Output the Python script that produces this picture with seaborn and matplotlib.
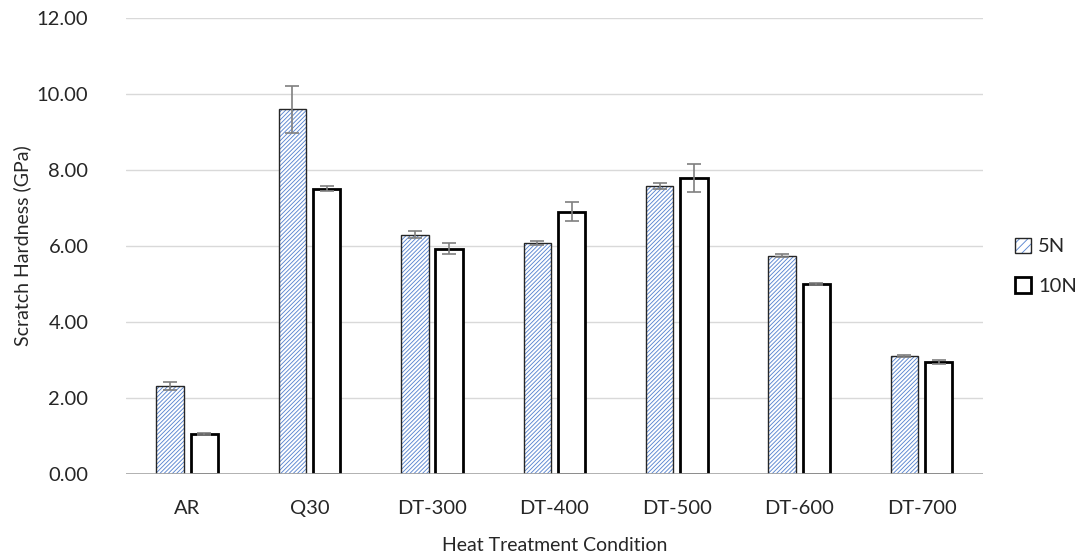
import matplotlib
matplotlib.use("Agg")
import matplotlib.pyplot as plt
from matplotlib.patches import Patch, Rectangle
from matplotlib.legend_handler import HandlerTuple
import seaborn as sns
import pandas as pd
import numpy as np

categories = ["AR", "Q30", "DT-300", "DT-400", "DT-500", "DT-600", "DT-700"]
series_names = ["5N", "10N"]
values_5n = [2.31, 9.60, 6.30, 6.07, 7.57, 5.75, 3.10]
err_5n = [0.10, 0.62, 0.10, 0.05, 0.08, 0.05, 0.02]
values_10n = [1.05, 7.51, 5.93, 6.90, 7.80, 5.00, 2.95]
err_10n = [0.02, 0.07, 0.15, 0.25, 0.37, 0.02, 0.06]
yticks = [0, 2, 4, 6, 8, 10, 12]

df = pd.DataFrame({
    "cond": categories * 2,
    "series": ["5N"] * len(categories) + ["10N"] * len(categories),
    "val": values_5n + values_10n,
    "err": err_5n + err_10n,
})

sns.set_theme(style="white")
plt.rcParams["font.family"] = ["Lato", "DejaVu Sans"]
plt.rcParams["hatch.linewidth"] = 0.65

blue = "#5a86d0"
txt = "#262626"
HATCH = "////////"

fig = plt.figure(figsize=(10.86, 5.55), dpi=100)
ax = fig.add_axes([0.116, 0.146, 0.789, 0.8215])

sns.barplot(data=df, x="cond", y="val", hue="series", order=categories,
            hue_order=series_names, errorbar=None, width=0.56, gap=0.2,
            palette=["white", "white"], legend=False, ax=ax, zorder=2)

n = len(categories)
patches = [p for p in ax.patches if isinstance(p, Rectangle)][:2 * n]
for i, p in enumerate(patches):
    x = p.get_x() + p.get_width() / 2
    h = p.get_height()
    if i < n:
        p.set_facecolor("white")
        p.set_edgecolor(blue)
        p.set_hatch(HATCH)
        p.set_linewidth(0)
        outline = Rectangle((p.get_x(), 0), p.get_width(), h, fill=False,
                            edgecolor="#262626", linewidth=1.0, zorder=3)
        ax.add_patch(outline)
        e = err_5n[i]
    else:
        p.set_facecolor("white")
        p.set_edgecolor("black")
        p.set_linewidth(2.0)
        e = err_10n[i - n]
    ax.errorbar(x, h, yerr=e, fmt="none", ecolor="#7f7f7f", elinewidth=1.2,
                capsize=5, capthick=1.2, zorder=4)

ax.set_ylim(0, 12)
ax.set_xlim(-0.5, n - 0.5)
ax.set_yticks(yticks)
ax.set_yticklabels([f"{v:.2f}" for v in yticks])
ax.yaxis.grid(True, color="#d9d9d9", linewidth=1.0, zorder=0)
ax.set_axisbelow(True)
for s in ["top", "right", "left", "bottom"]:
    ax.spines[s].set_visible(False)
ax.axhline(0, color="#a6a6a6", linewidth=1.2, zorder=5)
ax.tick_params(axis="both", labelsize=14.5, colors=txt, length=0)
ax.tick_params(axis="y", pad=27)
ax.tick_params(axis="x", pad=19)
ax.set_xlabel("Heat Treatment Condition", fontsize=14, color=txt, labelpad=14)
ax.set_ylabel("Scratch Hardness (GPa)", fontsize=14, color=txt, labelpad=4)

h5 = (Patch(facecolor="white", edgecolor=blue, hatch="////", linewidth=0),
      Patch(facecolor="none", edgecolor="#262626", linewidth=1.0))
h10 = Patch(facecolor="white", edgecolor="black", linewidth=2.0)
leg = fig.legend([h5, h10], series_names, loc="center left",
                 bbox_to_anchor=(0.918, 0.52), frameon=False, fontsize=14.5,
                 handlelength=0.8, handleheight=0.8, handletextpad=0.35,
                 labelspacing=1.1, labelcolor=txt,
                 handler_map={tuple: HandlerTuple(ndivide=1)})

fig.savefig("out.png", dpi=100)
